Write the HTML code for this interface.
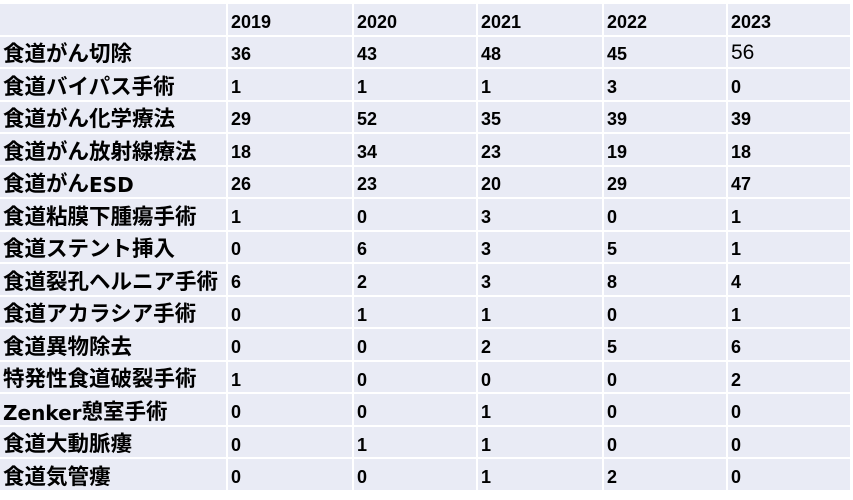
<!DOCTYPE html>
<html>
<head>
<meta charset="utf-8">
<style>
html,body{margin:0;padding:0;background:#fff;}
body{width:853px;height:500px;position:relative;overflow:hidden;}
.t{position:absolute;left:0;top:4px;width:850px;height:486px;background:#fff;
display:grid;grid-template-columns:226px 124px 122px 124px 122px 122px;
grid-template-rows:repeat(15,1fr);gap:2px;}
.t div{background:#e9ebf5;display:flex;align-items:center;box-sizing:border-box;color:#000;white-space:nowrap;overflow:hidden;}
.l{font-family:"Liberation Sans","Noto Sans CJK JP",sans-serif;font-weight:bold;font-size:21.5px;line-height:1;padding-left:3px;padding-top:6px;}
.l span{font-family:"DejaVu Sans",sans-serif;font-size:20px;}
.n{font-family:"Liberation Sans",sans-serif;font-weight:bold;font-size:18px;line-height:1;padding-left:3px;padding-top:5px;}
.r{font-weight:normal;font-size:21px;padding-top:2px;}
</style>
</head>
<body>
<div class="t">
<div class="l"></div><div class="n">2019</div><div class="n">2020</div><div class="n">2021</div><div class="n">2022</div><div class="n">2023</div>
<div class="l">食道がん切除</div><div class="n">36</div><div class="n">43</div><div class="n">48</div><div class="n">45</div><div class="n r">56</div>
<div class="l">食道バイパス手術</div><div class="n">1</div><div class="n">1</div><div class="n">1</div><div class="n">3</div><div class="n">0</div>
<div class="l">食道がん化学療法</div><div class="n">29</div><div class="n">52</div><div class="n">35</div><div class="n">39</div><div class="n">39</div>
<div class="l">食道がん放射線療法</div><div class="n">18</div><div class="n">34</div><div class="n">23</div><div class="n">19</div><div class="n">18</div>
<div class="l">食道がん<span>ESD</span></div><div class="n">26</div><div class="n">23</div><div class="n">20</div><div class="n">29</div><div class="n">47</div>
<div class="l">食道粘膜下腫瘍手術</div><div class="n">1</div><div class="n">0</div><div class="n">3</div><div class="n">0</div><div class="n">1</div>
<div class="l">食道ステント挿入</div><div class="n">0</div><div class="n">6</div><div class="n">3</div><div class="n">5</div><div class="n">1</div>
<div class="l">食道裂孔ヘルニア手術</div><div class="n">6</div><div class="n">2</div><div class="n">3</div><div class="n">8</div><div class="n">4</div>
<div class="l">食道アカラシア手術</div><div class="n">0</div><div class="n">1</div><div class="n">1</div><div class="n">0</div><div class="n">1</div>
<div class="l">食道異物除去</div><div class="n">0</div><div class="n">0</div><div class="n">2</div><div class="n">5</div><div class="n">6</div>
<div class="l">特発性食道破裂手術</div><div class="n">1</div><div class="n">0</div><div class="n">0</div><div class="n">0</div><div class="n">2</div>
<div class="l"><span>Zenker</span>憩室手術</div><div class="n">0</div><div class="n">0</div><div class="n">1</div><div class="n">0</div><div class="n">0</div>
<div class="l">食道大動脈瘻</div><div class="n">0</div><div class="n">1</div><div class="n">1</div><div class="n">0</div><div class="n">0</div>
<div class="l">食道気管瘻</div><div class="n">0</div><div class="n">0</div><div class="n">1</div><div class="n">2</div><div class="n">0</div>
</div>
</body>
</html>
